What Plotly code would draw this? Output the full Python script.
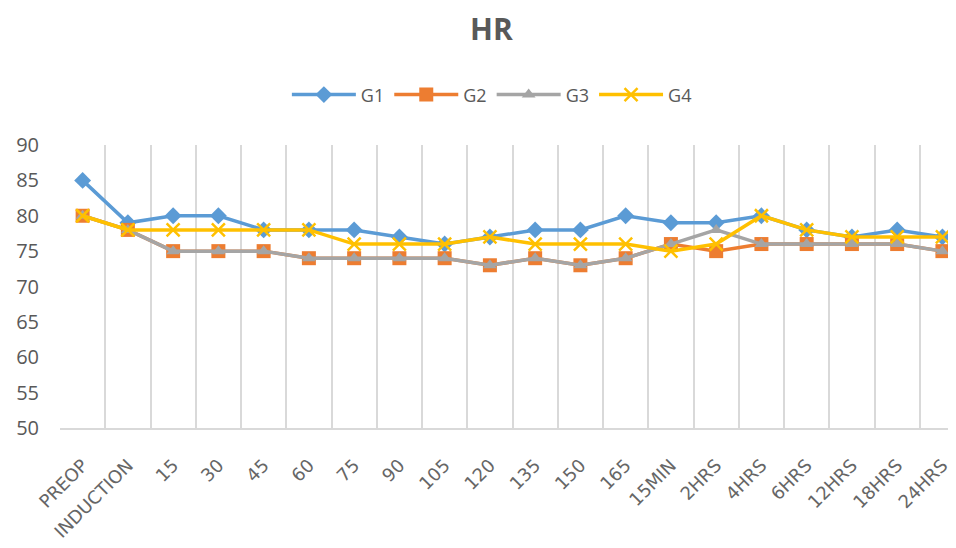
import plotly.graph_objects as go

categories = ["PREOP", "INDUCTION", "15", "30", "45", "60", "75", "90", "105", "120",
              "135", "150", "165", "15MIN", "2HRS", "4HRS", "6HRS", "12HRS", "18HRS", "24HRS"]
g1 = [85, 79, 80, 80, 78, 78, 78, 77, 76, 77, 78, 78, 80, 79, 79, 80, 78, 77, 78, 77]
g2 = [80, 78, 75, 75, 75, 74, 74, 74, 74, 73, 74, 73, 74, 76, 75, 76, 76, 76, 76, 75]
g3 = [80, 78, 75, 75, 75, 74, 74, 74, 74, 73, 74, 73, 74, 76, 78, 76, 76, 76, 76, 75]
g4 = [80, 78, 78, 78, 78, 78, 76, 76, 76, 77, 76, 76, 76, 75, 76, 80, 78, 77, 77, 77]

series = [
    ("G1", g1, "#5B9BD5", "diamond", 13),
    ("G2", g2, "#ED7D31", "square", 14),
    ("G3", g3, "#A5A5A5", "triangle-up", 12),
    ("G4", g4, "#FFC000", "x-thin", 13),
]

fig = go.Figure()
for name, vals, color, sym, size in series:
    marker = dict(symbol=sym, size=size, color=color)
    if sym == "x-thin":
        marker["line"] = dict(color=color, width=2.5)
    fig.add_trace(go.Scatter(
        x=categories, y=vals, name=name, mode="lines+markers",
        line=dict(color=color, width=3.5), marker=marker,
    ))

# page body has an 8px default margin, so the figure is sized to fit the window
fig.update_layout(
    width=948, height=540,
    paper_bgcolor="white", plot_bgcolor="white",
    margin=dict(l=52, r=0, t=137, b=120),
    font=dict(family="Open Sans, sans-serif", color="#595959"),
    title=dict(text="<b>HR</b>", x=0.51, xanchor="center", y=1 - 21 / 540, yanchor="middle",
               yref="container", font=dict(size=30, color="#595959")),
    legend=dict(orientation="h", x=0.482, xanchor="center", y=1.177, yanchor="middle",
                font=dict(size=18, color="#595959"), itemwidth=64),
    showlegend=True,
)
fig.update_xaxes(
    type="category", range=[-0.5, 19.3], tickson="boundaries", automargin=False,
    showgrid=True, gridcolor="#d9d9d9", gridwidth=1.5,
    showline=True, linecolor="#d9d9d9", linewidth=1.5,
    ticks="", tickangle=-45, ticklabelstandoff=18,
    tickfont=dict(family="DejaVu Sans, sans-serif", size=18, color="#666666"),
)
fig.update_yaxes(
    range=[50, 90], dtick=5, showgrid=False, zeroline=False, automargin=False,
    showline=False, ticks="", ticklabelstandoff=20,
    tickfont=dict(size=20, color="#595959"),
)

fig.write_html("out.html")
